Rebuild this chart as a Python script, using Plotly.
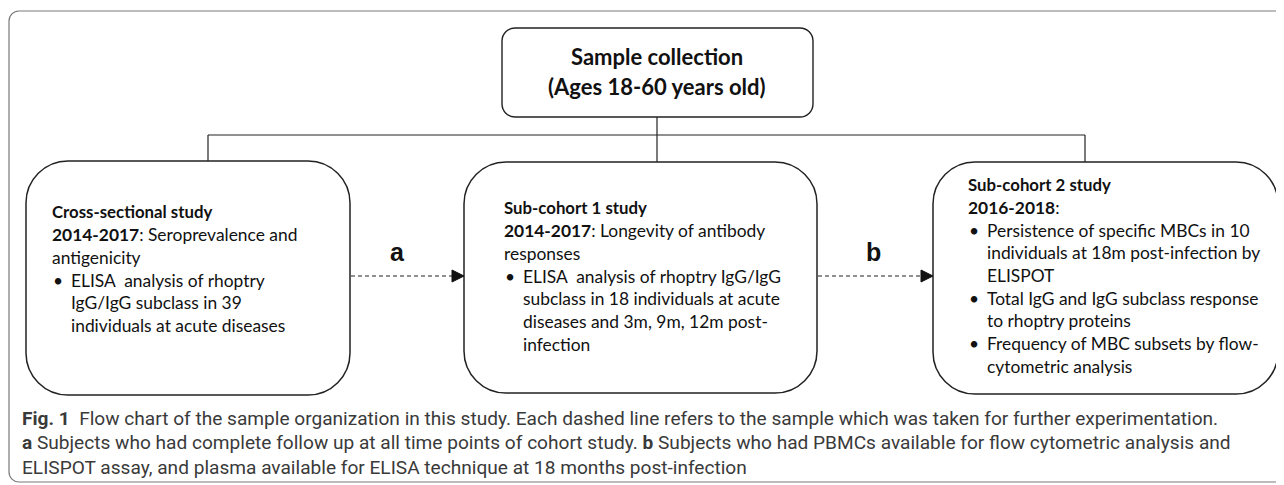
import plotly.graph_objects as go

# ---------------- content ----------------
top_title = ["<b>Sample collection</b>", "<b>(Ages 18-60 years old)</b>"]

box_a_lines = ["<b>Cross-sectional study</b>",
               "<b>2014-2017</b>: Seroprevalence and",
               "antigenicity"]
box_a_bullets = [["ELISA  analysis of rhoptry",
                  "IgG/IgG subclass in 39",
                  "individuals at acute diseases"]]

box_b_lines = ["<b>Sub-cohort 1 study</b>",
               "<b>2014-2017</b>: Longevity of antibody",
               "responses"]
box_b_bullets = [["ELISA  analysis of rhoptry IgG/IgG",
                  "subclass in 18 individuals at acute",
                  "diseases and 3m, 9m, 12m post-",
                  "infection"]]

box_c_lines = ["<b>Sub-cohort 2 study</b>",
               "<b>2016-2018</b>:"]
box_c_bullets = [["Persistence of specific MBCs in 10",
                  "individuals at 18m post-infection by",
                  "ELISPOT"],
                 ["Total IgG and IgG subclass response",
                  "to rhoptry proteins"],
                 ["Frequency of MBC subsets by flow-",
                  "cytometric analysis"]]

arrow_labels = ["a", "b"]

caption_lines = [
    "<b>Fig. 1</b>  Flow chart of the sample organization in this study. Each dashed line refers to the sample which was taken for further experimentation.",
    "<b>a</b> Subjects who had complete follow up at all time points of cohort study. <b>b</b> Subjects who had PBMCs available for flow cytometric analysis and",
    "ELISPOT assay, and plasma available for ELISA technique at 18 months post-infection",
]

# ---------------- layout geometry ----------------
W, H = 1284, 485
PAGE_MARGIN = 8  # default body margin of the html page
BOX_FONT = "Lato, 'Open Sans', sans-serif"
BOX_SIZE = 17.4
HEAD_SIZE = 16.8
LINE_H = 23
CAP_FONT = "Roboto, sans-serif"


def rrect(x0, y0, x1, y1, r):
    c = 0.5523 * r
    return (f"M{x0+r},{y0} L{x1-r},{y0} "
            f"C{x1-r+c},{y0} {x1},{y0+r-c} {x1},{y0+r} "
            f"L{x1},{y1-r} C{x1},{y1-r+c} {x1-r+c},{y1} {x1-r},{y1} "
            f"L{x0+r},{y1} C{x0+r-c},{y1} {x0},{y1-r+c} {x0},{y1-r} "
            f"L{x0},{y0+r} C{x0},{y0+r-c} {x0+r-c},{y0} {x0+r},{y0} Z")


shapes = []
annotations = []

# outer frame
shapes.append(dict(type="path", path=rrect(9, 11, 1310, 482, 10),
                   line=dict(color="#7a7a7a", width=1.2), fillcolor="rgba(0,0,0,0)"))

# top box
shapes.append(dict(type="path", path=rrect(502, 28, 813, 117, 13),
                   line=dict(color="#222", width=1.4), fillcolor="white"))
for i, t in enumerate(top_title):
    annotations.append(dict(x=657, y=56 + i * 30, text=t, showarrow=False,
                            xanchor="center", yanchor="middle",
                            font=dict(family=BOX_FONT, size=22, color="#111")))

# connectors
line_style = dict(color="#222", width=1.2)
for (x0, y0, x1, y1) in [(657, 117, 657, 162), (208, 135, 1085, 135),
                         (208, 135, 208, 161), (1085, 135, 1085, 162)]:
    shapes.append(dict(type="line", x0=x0, y0=y0, x1=x1, y1=y1, line=line_style))

# study boxes
boxes = [
    dict(rect=(26, 161, 350, 395), tx=50, ty=211, lines=box_a_lines, bullets=box_a_bullets),
    dict(rect=(464, 162, 817, 393), tx=502, ty=207, lines=box_b_lines, bullets=box_b_bullets),
    dict(rect=(933, 162, 1278, 394), tx=966, ty=184, lines=box_c_lines, bullets=box_c_bullets),
]
for b in boxes:
    x0, y0, x1, y1 = b["rect"]
    shapes.append(dict(type="path", path=rrect(x0, y0, x1, y1, 42),
                       line=dict(color="#222", width=1.5), fillcolor="white"))
    y = b["ty"]
    for j, t in enumerate(b["lines"]):
        annotations.append(dict(x=b["tx"], y=y, text=t, showarrow=False,
                                xanchor="left", yanchor="middle",
                                font=dict(family=BOX_FONT,
                                          size=HEAD_SIZE if j == 0 else BOX_SIZE,
                                          color="#111")))
        y += LINE_H
    for bl in b["bullets"]:
        annotations.append(dict(x=b["tx"] + 1, y=y, text="•", showarrow=False,
                                xanchor="left", yanchor="middle",
                                font=dict(family=BOX_FONT, size=BOX_SIZE, color="#111")))
        for t in bl:
            annotations.append(dict(x=b["tx"] + 19, y=y, text=t, showarrow=False,
                                    xanchor="left", yanchor="middle",
                                    font=dict(family=BOX_FONT, size=BOX_SIZE, color="#111")))
            y += LINE_H - 0.3

# dashed arrows
arrows = [(351, 464, 276, 397), (818, 933, 276, 873)]
for (xa, xb, ya, lx), lab in zip(arrows, arrow_labels):
    shapes.append(dict(type="line", x0=xa, y0=ya, x1=xb - 11, y1=ya,
                       line=dict(color="#222", width=1.2, dash="4px,3px")))
    shapes.append(dict(type="path", path=f"M{xb-12},{ya-6} L{xb},{ya} L{xb-12},{ya+6} Z",
                       line=dict(color="#111", width=1), fillcolor="#111"))
    annotations.append(dict(x=lx, y=252, text=f"<b>{lab}</b>", showarrow=False,
                            xanchor="center", yanchor="middle",
                            font=dict(family="'Liberation Sans', Arial, sans-serif",
                                      size=25, color="#111")))

# caption
for i, t in enumerate(caption_lines):
    annotations.append(dict(x=20, y=418 + i * 24.5, text=t, showarrow=False,
                            xanchor="left", yanchor="middle",
                            font=dict(family=CAP_FONT, size=19.1, color="#3a3a3a")))

fig = go.Figure()
fig.update_layout(
    width=W - PAGE_MARGIN, height=H - PAGE_MARGIN, margin=dict(l=0, r=0, t=0, b=0),
    paper_bgcolor="white", plot_bgcolor="white",
    xaxis=dict(range=[PAGE_MARGIN, W], visible=False, fixedrange=True),
    yaxis=dict(range=[H, PAGE_MARGIN], visible=False, fixedrange=True),
    shapes=shapes, annotations=annotations, showlegend=False,
)
fig.write_html("out.html")
